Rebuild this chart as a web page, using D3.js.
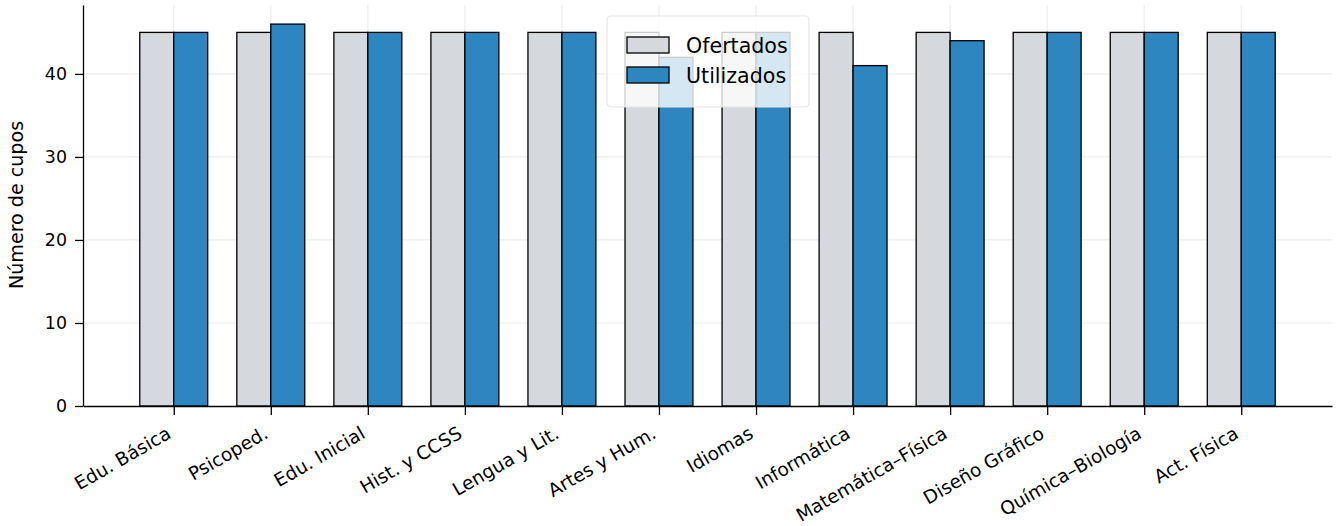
<!DOCTYPE html>
<html><head><meta charset="utf-8">
<script src="https://cdn.jsdelivr.net/npm/d3@7"></script>
<style>
body{margin:0;background:#fff;}
text{font-family:"DejaVu Sans",sans-serif;fill:#000;}
</style></head>
<body><svg id="c" width="1339" height="526"></svg>
<script>
const categories = ["Edu. Básica","Psicoped.","Edu. Inicial","Hist. y CCSS","Lengua y Lit.","Artes y Hum.","Idiomas","Informática","Matemática–Física","Diseño Gráfico","Química–Biología","Act. Física"];
const ofertados = [45,45,45,45,45,45,45,45,45,45,45,45];
const utilizados = [45,46,45,45,45,42,45,41,44,45,45,45];
const yTicks = [0,10,20,30,40];
const seriesNames = ["Ofertados","Utilizados"];
const colors = ["#d5d8dc","#2e86c1"];

const svg = d3.select("#c");
const L = 83, R = 1332, T = 5, B = 406;
const barW = 0.35;
const x = d3.scaleLinear().domain([-0.935, 11.935]).range([L, R]);
const y = d3.scaleLinear().domain([0, 48.3]).range([B, T]);
const idx = categories.map((_, i) => i);

// grid
const grid = svg.append("g");
grid.selectAll("line.h").data(yTicks.filter(d => d > 0)).join("line")
  .attr("x1", L).attr("x2", R).attr("y1", d => y(d)).attr("y2", d => y(d))
  .attr("stroke", "#ededed").attr("stroke-width", 1.2);
grid.selectAll("line.v").data(idx).join("line")
  .attr("x1", d => x(d)).attr("x2", d => x(d)).attr("y1", T).attr("y2", B)
  .attr("stroke", "#ededed").attr("stroke-width", 1.2);

// bars
const series = [ofertados, utilizados];
series.forEach((vals, s) => {
  svg.append("g").selectAll("rect").data(vals).join("rect")
    .attr("x", (d, i) => x(i + (s === 0 ? -barW : 0)))
    .attr("width", x(barW) - x(0))
    .attr("y", d => y(d))
    .attr("height", d => y(0) - y(d))
    .attr("fill", colors[s]).attr("stroke", "#000").attr("stroke-width", 1.3);
});

// axes
const yAxis = svg.append("g").attr("transform", `translate(${L},0)`)
  .call(d3.axisLeft(y).tickValues(yTicks).tickSize(8).tickPadding(8).tickSizeOuter(0));
yAxis.select(".domain").attr("stroke-width", 1.3);
yAxis.selectAll(".tick line").attr("stroke-width", 1.3);
yAxis.selectAll("text").style("font-size", "17.4px").style("font-family", "DejaVu Sans");

const xAxis = svg.append("g").attr("transform", `translate(0,${B})`)
  .call(d3.axisBottom(x).tickValues(idx).tickFormat(i => categories[i]).tickSize(9).tickSizeOuter(0));
xAxis.select(".domain").attr("stroke-width", 1.3);
xAxis.selectAll(".tick line").attr("stroke-width", 1.3);
xAxis.selectAll("text")
  .style("font-size", "18.5px").style("font-family", "DejaVu Sans")
  .attr("text-anchor", "end").attr("dy", null).attr("y", null)
  .attr("transform", "translate(-2,31) rotate(-30)");

// y label
svg.append("text").attr("transform", `translate(23,205) rotate(-90)`)
  .attr("text-anchor", "middle").style("font-size", "19.1px").text("Número de cupos");

// legend
const lg = svg.append("g").attr("transform", "translate(607,16)");
lg.append("rect").attr("width", 202).attr("height", 91).attr("rx", 4)
  .attr("fill", "#fff").attr("fill-opacity", 0.8).attr("stroke", "#e6e6e6").attr("stroke-width", 1.2);
seriesNames.forEach((n, i) => {
  lg.append("rect").attr("x", 20).attr("y", 21 + i * 30).attr("width", 42).attr("height", 16)
    .attr("fill", colors[i]).attr("stroke", "#000").attr("stroke-width", 1.3);
  lg.append("text").attr("x", 79).attr("y", 36.5 + i * 30).style("font-size", "20.6px").text(n);
});
</script></body></html>
